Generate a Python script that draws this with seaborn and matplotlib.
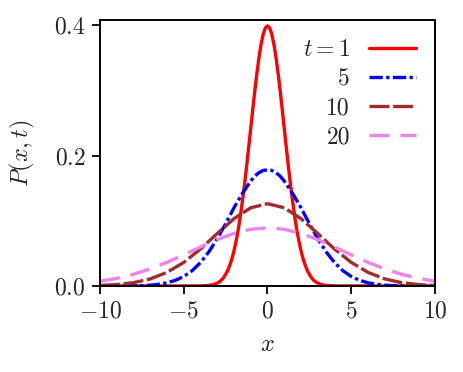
import matplotlib
matplotlib.use("Agg")
import matplotlib.pyplot as plt
import seaborn as sns

# values
x_t1 = [-10, -4, -3.5, -3.25, -3, -2.875, -2.75, -2.625, -2.5, -2.375, -2.25, -2.125, -2, -1.875, -1.75,
        -1.625, -1.5, -1.375, -1.25, -1.125, -1, -0.875, -0.75, -0.625, -0.5, -0.375, -0.25, -0.125,
        0, 0.125, 0.25, 0.375, 0.5, 0.625, 0.75, 0.875, 1, 1.125, 1.25, 1.375, 1.5, 1.625,
        1.75, 1.875, 2, 2.125, 2.25, 2.375, 2.5, 2.625, 2.75, 2.875, 3, 3.25, 3.5, 4, 10]
p_t1 = [0.0, 0.0001, 0.0009, 0.0020, 0.0044, 0.0064, 0.009, 0.0127, 0.018, 0.0238, 0.032, 0.0417, 0.054, 0.0688, 0.086,
        0.1066, 0.130, 0.155, 0.183, 0.212, 0.242, 0.272, 0.301, 0.328, 0.352, 0.372, 0.387, 0.396,
        0.399, 0.396, 0.387, 0.372, 0.352, 0.328, 0.301, 0.272, 0.242, 0.212, 0.183, 0.155, 0.130, 0.1066,
        0.086, 0.0688, 0.054, 0.0417, 0.032, 0.0238, 0.018, 0.0127, 0.009, 0.0064, 0.0044, 0.0020, 0.0009, 0.0001, 0.0]

x_t5 = [-10, -9, -8, -7.5, -7, -6.5, -6, -5.5, -5, -4.5, -4, -3.5, -3, -2.5, -2, -1.5, -1, -0.75, -0.5, -0.25,
        0, 0.25, 0.5, 0.75, 1, 1.5, 2, 2.5, 3, 3.5, 4, 4.5, 5, 5.5, 6, 6.5, 7, 7.5, 8, 9, 10]
p_t5 = [0.0, 0.0000, 0.0003, 0.0006, 0.0013, 0.0026, 0.0049, 0.0087, 0.0146, 0.0235, 0.0360, 0.0524, 0.0725, 0.0955,
        0.120, 0.142, 0.161, 0.1687, 0.174, 0.1773,
        0.178, 0.1773, 0.174, 0.1687, 0.161, 0.142, 0.120, 0.0955, 0.0725, 0.0524, 0.0360, 0.0235, 0.0146, 0.0087,
        0.0049, 0.0026, 0.0013, 0.0006, 0.0003, 0.0000, 0.0]

x_t10 = [-10, -9, -8, -7, -6, -5, -4, -3, -2, -1, 0, 1, 2, 3, 4, 5, 6, 7, 8, 9, 10]
p_t10 = [0.0009, 0.0022, 0.0051, 0.0109, 0.0209, 0.0362, 0.0567, 0.0805, 0.1033, 0.1200, 0.1262,
         0.1200, 0.1033, 0.0805, 0.0567, 0.0362, 0.0209, 0.0109, 0.0051, 0.0022, 0.0009]

x_t20 = [-10, -9, -8, -7, -6, -5, -4, -3, -2, -1, 0, 1, 2, 3, 4, 5, 6, 7, 8, 9, 10]
p_t20 = [0.0073, 0.0118, 0.0180, 0.0262, 0.0363, 0.0478, 0.0598, 0.0712, 0.0807, 0.0870, 0.0892,
         0.0870, 0.0807, 0.0712, 0.0598, 0.0478, 0.0363, 0.0262, 0.0180, 0.0118, 0.0073]

labels = ["$t=1$", "5", "10", "20"]
colors = ["red", "blue", "brown", "violet"]
styles = ["-", (0, (4, 1, 1, 1)), (0, (6, 1.1)), (0, (6, 3.3))]

sns.set_style("ticks")
plt.rcParams["font.family"] = "serif"
plt.rcParams["font.serif"] = ["cmr10", "DejaVu Serif"]
plt.rcParams["mathtext.fontset"] = "cm"
plt.rcParams["axes.formatter.use_mathtext"] = True
plt.rcParams["axes.unicode_minus"] = True

fig = plt.figure(figsize=(4.64, 3.72), dpi=100)
ax = fig.add_axes([100 / 464, 1 - 286 / 372, 335 / 464, 266 / 372])

series = [(x_t1, p_t1), (x_t5, p_t5), (x_t10, p_t10), (x_t20, p_t20)]
for (xs, ps), lab, col, ls in zip(series, labels, colors, styles):
    sns.lineplot(x=xs, y=ps, ax=ax, color=col, linestyle=ls, linewidth=2.4, label=lab)

ax.set_xlim(-10, 10)
ax.set_ylim(0, 0.408)
ax.set_xticks([-10, -5, 0, 5, 10])
ax.set_yticks([0.0, 0.2, 0.4])
ax.set_xlabel("$x$", fontsize=17.5, labelpad=8)
ax.set_ylabel("$P(x,t)$", fontsize=17.5, labelpad=12)
ax.tick_params(labelsize=17, length=5.5, width=1.3, pad=5, color="black")
for s in ax.spines.values():
    s.set_linewidth(1.4)
    s.set_color("black")

ax.legend(loc="upper right", frameon=False, markerfirst=False, fontsize=17,
          handlelength=2.0, labelspacing=0.3, borderaxespad=0.4)

plt.savefig("out.png", dpi=100)
